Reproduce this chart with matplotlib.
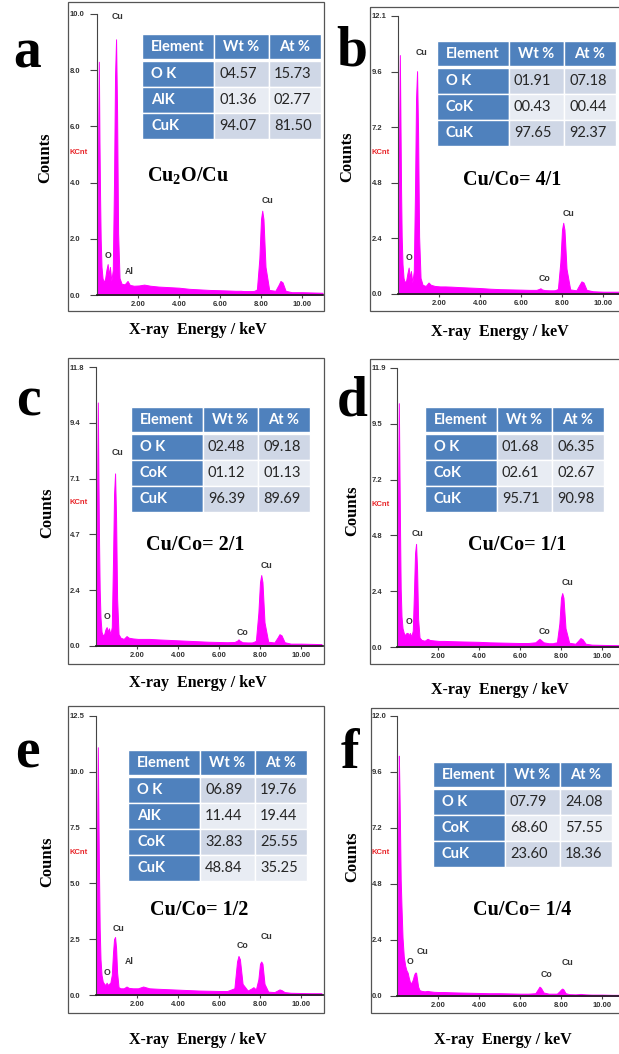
import matplotlib.pyplot as plt
import matplotlib.patches as mpatches
import numpy as np

plt.rcParams['mathtext.fontset'] = 'custom'
plt.rcParams['mathtext.rm'] = 'Liberation Serif:bold'
plt.rcParams['mathtext.bf'] = 'Liberation Serif:bold'

W, H = 619, 1054

# energy grid (keV) the spectra were read at
energy = [0.00, 0.06, 0.09, 0.12, 0.15, 0.18, 0.22, 0.27, 0.33, 0.40,
          0.46, 0.52, 0.57, 0.63, 0.70, 0.77, 0.83, 0.88, 0.93, 0.98,
          1.03, 1.10, 1.20, 1.35, 1.49, 1.60, 1.80, 2.05, 2.30, 2.60,
          3.00, 3.50, 4.00, 4.50, 5.00, 5.50, 6.00, 6.40, 6.75, 6.88,
          6.95, 7.02, 7.15, 7.40, 7.60, 7.68, 7.80, 7.92, 8.00, 8.06,
          8.12, 8.22, 8.40, 8.70, 8.85, 8.95, 9.05, 9.20, 9.50, 10.00,
          10.50, 11.00]

# counts (KCnt) per sample
counts_a = [0.0, 6.0, 8.3, 5.5, 3.5, 2.0, 1.0, 0.6, 0.45, 0.6,
            0.9, 1.1, 0.7, 1.0, 0.5, 0.9, 4.0, 7.8, 9.1, 6.5,
            2.2, 0.6, 0.4, 0.38, 0.5, 0.36, 0.33, 0.34, 0.37, 0.33,
            0.30, 0.28, 0.26, 0.22, 0.20, 0.18, 0.17, 0.16, 0.15, 0.15,
            0.15, 0.15, 0.14, 0.14, 0.14, 0.15, 0.2, 1.3, 2.7, 3.0,
            2.7, 1.0, 0.18, 0.15, 0.35, 0.5, 0.45, 0.15, 0.10, 0.10,
            0.09, 0.08]
counts_b = [0.0, 7.5, 10.4, 7.5, 4.5, 2.5, 1.3, 0.7, 0.5, 0.6,
            0.9, 1.15, 0.7, 1.0, 0.5, 1.0, 4.5, 8.5, 9.7, 7.0,
            2.5, 0.7, 0.4, 0.35, 0.5, 0.4, 0.35, 0.33, 0.33, 0.32,
            0.30, 0.28, 0.26, 0.23, 0.21, 0.20, 0.19, 0.18, 0.18, 0.22,
            0.25, 0.2, 0.17, 0.16, 0.16, 0.17, 0.22, 1.4, 2.8, 3.1,
            2.8, 1.1, 0.2, 0.16, 0.4, 0.55, 0.5, 0.18, 0.12, 0.10,
            0.10, 0.10]
counts_c = [0.0, 7.5, 10.3, 7.0, 4.3, 2.4, 1.2, 0.6, 0.45, 0.5,
            0.7, 0.8, 0.6, 0.75, 0.5, 0.8, 3.6, 6.4, 7.3, 5.4,
            2.0, 0.5, 0.35, 0.3, 0.42, 0.35, 0.32, 0.30, 0.30, 0.30,
            0.28, 0.26, 0.24, 0.22, 0.20, 0.18, 0.17, 0.16, 0.17, 0.22,
            0.28, 0.22, 0.16, 0.15, 0.15, 0.17, 0.22, 1.4, 2.7, 3.0,
            2.7, 1.0, 0.18, 0.15, 0.35, 0.5, 0.45, 0.16, 0.10, 0.10,
            0.09, 0.08]
counts_d = [0.0, 7.5, 10.4, 7.5, 4.8, 2.5, 1.3, 0.8, 0.6, 0.5,
            0.6, 0.6, 0.5, 0.6, 0.45, 0.7, 2.4, 4.0, 4.4, 3.3,
            1.2, 0.4, 0.3, 0.27, 0.35, 0.3, 0.28, 0.26, 0.26, 0.25,
            0.24, 0.23, 0.22, 0.20, 0.19, 0.18, 0.17, 0.17, 0.2, 0.3,
            0.35, 0.3, 0.2, 0.16, 0.16, 0.18, 0.2, 1.0, 2.1, 2.3,
            2.1, 0.8, 0.18, 0.14, 0.28, 0.38, 0.33, 0.14, 0.10, 0.09,
            0.08, 0.08]
counts_e = [0.0, 8.0, 11.1, 7.8, 5.2, 3.0, 1.6, 0.9, 0.6, 0.5,
            0.45, 0.55, 0.45, 0.5, 0.55, 0.9, 1.9, 2.5, 2.6, 2.1,
            1.0, 0.35, 0.3, 0.3, 0.38, 0.32, 0.30, 0.30, 0.38, 0.30,
            0.28, 0.26, 0.24, 0.22, 0.20, 0.19, 0.18, 0.18, 0.3, 1.5,
            1.75, 1.6, 0.5, 0.2, 0.3, 0.35, 0.25, 0.7, 1.4, 1.5,
            1.4, 0.5, 0.15, 0.13, 0.2, 0.25, 0.22, 0.13, 0.10, 0.09,
            0.08, 0.08]
counts_f = [0.0, 7.5, 10.3, 8.8, 7.0, 5.0, 3.8, 2.5, 1.7, 1.3,
            1.1, 1.0, 0.8, 0.6, 0.55, 0.7, 0.9, 1.0, 1.0, 0.7,
            0.4, 0.25, 0.22, 0.2, 0.22, 0.2, 0.18, 0.17, 0.17, 0.16,
            0.15, 0.14, 0.13, 0.12, 0.12, 0.11, 0.10, 0.10, 0.12, 0.3,
            0.4, 0.35, 0.15, 0.10, 0.10, 0.10, 0.10, 0.2, 0.28, 0.32,
            0.28, 0.12, 0.08, 0.07, 0.08, 0.09, 0.08, 0.07, 0.06, 0.06,
            0.05, 0.05]

ymax = [10.0, 12.1, 11.8, 11.9, 12.5, 12.0]
ytick_labels = [["0.0", "2.0", "4.0", "6.0", "8.0", "10.0"],
                ["0.0", "2.4", "4.8", "7.2", "9.6", "12.1"],
                ["0.0", "2.4", "4.7", "7.1", "9.4", "11.8"],
                ["0.0", "2.4", "4.8", "7.2", "9.5", "11.9"],
                ["0.0", "2.5", "5.0", "7.5", "10.0", "12.5"],
                ["0.0", "2.4", "4.8", "7.2", "9.6", "12.0"]]
xticks = [2, 4, 6, 8, 10]
xtick_labels = ["2.00", "4.00", "6.00", "8.00", "10.00"]

letters = ["a", "b", "c", "d", "e", "f"]
samples = [r"Cu$_\mathbf{2}$O/Cu", "Cu/Co= 4/1", "Cu/Co= 2/1",
           "Cu/Co= 1/1", "Cu/Co= 1/2", "Cu/Co= 1/4"]
peaks = [["Cu", "O", "Al", "Cu"],
         ["Cu", "O", "Co", "Cu"],
         ["Cu", "O", "Co", "Cu"],
         ["Cu", "O", "Co", "Cu"],
         ["Cu", "O", "Al", "Co", "Cu"],
         ["Cu", "O", "Co", "Cu"]]

table_header = ["Element", "Wt %", "At %"]
elements = [["O K", "AlK", "CuK"],
            ["O K", "CoK", "CuK"],
            ["O K", "CoK", "CuK"],
            ["O K", "CoK", "CuK"],
            ["O K", "AlK", "CoK", "CuK"],
            ["O K", "CoK", "CuK"]]
wt = [["04.57", "01.36", "94.07"],
      ["01.91", "00.43", "97.65"],
      ["02.48", "01.12", "96.39"],
      ["01.68", "02.61", "95.71"],
      ["06.89", "11.44", "32.83", "48.84"],
      ["07.79", "68.60", "23.60"]]
at = [["15.73", "02.77", "81.50"],
      ["07.18", "00.44", "92.37"],
      ["09.18", "01.13", "89.69"],
      ["06.35", "02.67", "90.98"],
      ["19.76", "19.44", "25.55", "35.25"],
      ["24.08", "57.55", "18.36"]]

counts = [counts_a, counts_b, counts_c, counts_d, counts_e, counts_f]

# layout in pixels (x right, y down)
layout = [
    dict(box=(68, 2, 324, 311), axes=(97, 323, 14, 295), table=(142, 34),
         letter=(27, 67), sample=(188, 182), counts=(45, 158), xlab=(198, 330),
         kcnt=(70, 152),
         peakpos=[(0.98, 9.9), (0.54, 1.4), (1.58, 0.85), (8.3, 3.38)]),
    dict(box=(370, 7, 621, 311), axes=(398, 619, 16, 294), table=(437, 41),
         letter=(352, 65), sample=(512, 185), counts=(347, 157), xlab=(500, 332),
         kcnt=(372, 152),
         peakpos=[(1.17, 10.5), (0.54, 1.6), (7.17, 0.69), (8.3, 3.5)]),
    dict(box=(68, 358, 324, 664), axes=(96, 323, 367, 646), table=(131, 407),
         letter=(28, 415), sample=(195, 550), counts=(47, 513), xlab=(198, 683),
         kcnt=(70, 503),
         peakpos=[(1.07, 8.2), (0.54, 1.23), (7.17, 0.55), (8.3, 3.4)]),
    dict(box=(370, 359, 621, 664), axes=(397, 619, 368, 647), table=(425, 407),
         letter=(352, 415), sample=(517, 550), counts=(352, 511), xlab=(500, 690),
         kcnt=(372, 505),
         peakpos=[(0.98, 4.86), (0.59, 1.07), (7.2, 0.64), (8.34, 2.73)]),
    dict(box=(68, 706, 324, 1013), axes=(96, 324, 716, 995), table=(128, 750),
         letter=(27, 768), sample=(199, 915), counts=(47, 862), xlab=(198, 1040),
         kcnt=(70, 852),
         peakpos=[(1.12, 2.96), (0.54, 0.99), (1.6, 1.48), (7.17, 2.2), (8.3, 2.64)]),
    dict(box=(371, 708, 621, 1013), axes=(397, 619, 716, 996), table=(433, 762),
         letter=(350, 768), sample=(522, 915), counts=(352, 857), xlab=(503, 1040),
         kcnt=(372, 853),
         peakpos=[(1.22, 1.89), (0.63, 1.46), (7.27, 0.94), (8.34, 1.42)]),
]

px_per_kev = 20.5
col_w = [72, 55, 52]
head_h = 25
row_h = 26
blue = '#4f81bd'
row_cols = ['#cfd7e6', '#e8ecf3']
serif = 'Liberation Serif'
sans = 'Liberation Sans'
ticklen = 5

fig = plt.figure(figsize=(W / 100, H / 100), dpi=100)
fig.patch.set_facecolor('white')

for i in range(6):
    L = layout[i]
    x0, x1, yt, yb = L['axes']
    ax = fig.add_axes([x0 / W, 1 - yb / H, (x1 - x0) / W, (yb - yt) / H])
    ax.set_facecolor('none')
    ax.fill_between(energy, counts[i], 0, color='#ff00ff', lw=0.7, zorder=2)
    ax.set_xlim(0, (x1 - x0) / px_per_kev)
    ax.set_ylim(0, ymax[i])
    for s in ['top', 'right']:
        ax.spines[s].set_visible(False)
    ax.spines['left'].set_color('#444444')
    ax.spines['left'].set_linewidth(0.8)
    ax.spines['bottom'].set_color('#222222')
    ax.spines['bottom'].set_linewidth(1.3)
    ax.spines['bottom'].set_zorder(3)
    ax.set_xticks(xticks)
    ax.set_xticklabels(xtick_labels)
    ax.set_yticks(np.linspace(0, ymax[i], 6))
    ax.set_yticklabels(ytick_labels[i])
    pad = (x0 - L['kcnt'][0]) * 0.72 - ticklen
    ax.tick_params(axis='y', length=ticklen, width=0.8, color='#444444',
                   pad=pad, labelsize=5.5, labelcolor='#333333')
    ax.tick_params(axis='x', length=2.5, width=0.8, color='#444444',
                   pad=1.5, labelsize=5.5, labelcolor='#333333')
    for lab in ax.get_yticklabels():
        lab.set_ha('left')
        lab.set_fontweight('bold')
        lab.set_family(sans)
    for lab in ax.get_xticklabels():
        lab.set_fontweight('bold')
        lab.set_family(sans)
    for name, (pe, pc) in zip(peaks[i], L['peakpos']):
        ax.text(pe, pc, name, ha='center', va='center', fontsize=6.3,
                fontweight='bold', family=sans, color='#333333', zorder=4)

# overlay in pixel coordinates for frames, tables and labels
ov = fig.add_axes([0, 0, 1, 1], zorder=10)
ov.set_xlim(0, W)
ov.set_ylim(H, 0)
ov.axis('off')

for i in range(6):
    L = layout[i]
    bx0, by0, bx1, by1 = L['box']
    ov.add_patch(mpatches.Rectangle((bx0, by0), bx1 - bx0, by1 - by0,
                                    fill=False, ec='#555555', lw=0.9))
    ov.text(L['letter'][0], L['letter'][1], letters[i], ha='center',
            va='baseline', fontsize=40, fontweight='bold', family=serif)
    ov.text(L['sample'][0], L['sample'][1], samples[i], ha='center',
            va='baseline', fontsize=14.5, fontweight='bold', family=serif)
    ov.text(L['counts'][0], L['counts'][1], 'Counts', ha='center',
            va='center', rotation=90, fontsize=12, fontweight='bold',
            family=serif)
    ov.text(L['xlab'][0], L['xlab'][1], 'X-ray  Energy / keV', ha='center',
            va='center', fontsize=11.5, fontweight='bold', family=serif)
    ov.text(L['kcnt'][0], L['kcnt'][1], 'KCnt', ha='left', va='center',
            fontsize=5.5, fontweight='bold', family=sans, color='#e8262a')

    # EDS table
    tx, ty = L['table']
    xs = [tx, tx + col_w[0], tx + col_w[0] + col_w[1], tx + sum(col_w)]
    for c in range(3):
        ov.add_patch(mpatches.Rectangle((xs[c], ty), col_w[c], head_h,
                                        fc=blue, ec='white', lw=1.0))
        ov.text((xs[c] + xs[c + 1]) / 2, ty + head_h / 2 + 0.5,
                table_header[c], ha='center', va='center', fontsize=10.5,
                fontweight='bold', family='Lato', color='white')
    yrow = ty + head_h + 2
    for r in range(len(elements[i])):
        cells = [elements[i][r], wt[i][r], at[i][r]]
        for c in range(3):
            fc = blue if c == 0 else row_cols[r % 2]
            ov.add_patch(mpatches.Rectangle((xs[c], yrow), col_w[c], row_h,
                                            fc=fc, ec='white', lw=1.0))
        ov.text(xs[0] + 9, yrow + row_h / 2, cells[0], ha='left', va='center',
                fontsize=10.5, fontweight='bold', family='Lato', color='white')
        for c in (1, 2):
            ov.text(xs[c] + 5, yrow + row_h / 2, cells[c], ha='left',
                    va='center', fontsize=10.5, family='Lato',
                    color='#262626')
        yrow += row_h
    ov.plot([xs[0], xs[3]], [ty + head_h + 1, ty + head_h + 1],
            color='white', lw=2)

fig.savefig('out.png', dpi=100, facecolor='white')
